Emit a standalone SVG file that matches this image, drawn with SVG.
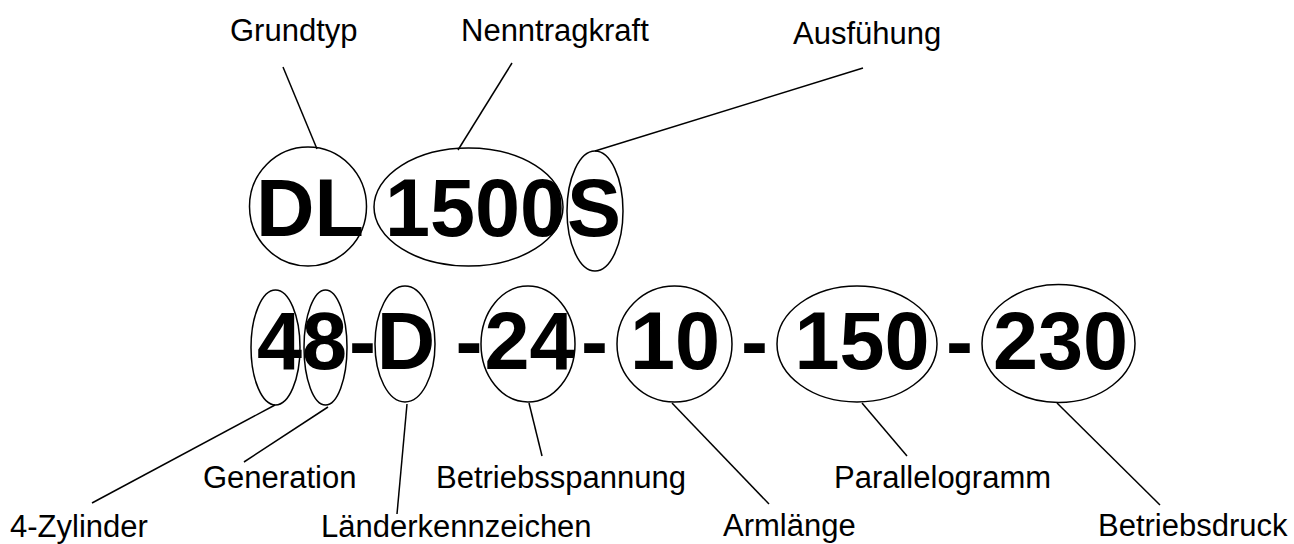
<svg xmlns="http://www.w3.org/2000/svg" width="1294" height="544" viewBox="0 0 1294 544">
<style>
.big{font-family:"Liberation Sans",Arial,sans-serif;font-weight:bold;font-size:81px;fill:#000;text-anchor:middle}
.lbl{font-family:"Liberation Sans",Arial,sans-serif;font-size:31px;fill:#000}
.ov{fill:none;stroke:#000;stroke-width:1.5}
.ln{stroke:#000;stroke-width:1.5;fill:none}
</style>
<rect width="1294" height="544" fill="#fff"/>
<g id="code-text">
<text class="big" x="310" y="236">DL</text>
<text class="big" x="475" y="236">1500</text>
<text class="big" x="594" y="236">S</text>
<text class="big" x="302" y="369">48</text>
<text class="big" x="362.5" y="369">-</text>
<text class="big" x="406" y="369">D</text>
<text class="big" x="469" y="369">-</text>
<text class="big" x="529.5" y="369">24</text>
<text class="big" x="594.5" y="369">-</text>
<text class="big" x="675" y="369">10</text>
<text class="big" x="754.5" y="369">-</text>
<text class="big" x="862" y="369">150</text>
<text class="big" x="959.5" y="369">-</text>
<text class="big" x="1060.5" y="369">230</text>
</g>
<g id="grundtyp"><ellipse class="ov" cx="308" cy="206.5" rx="58.5" ry="59.5"/><text class="lbl" x="230" y="41">Grundtyp</text></g>
<g id="nenntragkraft"><ellipse class="ov" cx="468.5" cy="207" rx="94.5" ry="59"/><text class="lbl" x="461" y="41">Nenntragkraft</text></g>
<g id="ausfuehung"><ellipse class="ov" cx="595" cy="211" rx="28" ry="60"/><text class="lbl" x="793" y="44">Ausfühung</text></g>
<g id="zylinder"><ellipse class="ov" cx="275.5" cy="347.5" rx="24.5" ry="57.5"/><text class="lbl" x="10" y="537">4-Zylinder</text></g>
<g id="generation"><ellipse class="ov" cx="325.5" cy="347.5" rx="21.5" ry="57.5"/><text class="lbl" x="203" y="488">Generation</text></g>
<g id="laenderkennzeichen"><ellipse class="ov" cx="405" cy="344" rx="30" ry="58"/><text class="lbl" x="321" y="537">Länderkennzeichen</text></g>
<g id="betriebsspannung"><ellipse class="ov" cx="528" cy="344" rx="47" ry="58"/><text class="lbl" x="436" y="488">Betriebsspannung</text></g>
<g id="armlaenge"><ellipse class="ov" cx="674.5" cy="344" rx="57.5" ry="58"/><text class="lbl" x="723" y="536">Armlänge</text></g>
<g id="parallelogramm"><ellipse class="ov" cx="857" cy="344" rx="80" ry="58"/><text class="lbl" x="834" y="488">Parallelogramm</text></g>
<g id="betriebsdruck"><ellipse class="ov" cx="1058.5" cy="343.5" rx="76.5" ry="59"/><text class="lbl" x="1098" y="536">Betriebsdruck</text></g>
<g id="connectors">
<line class="ln" x1="283" y1="67" x2="317" y2="149"/>
<line class="ln" x1="512" y1="63" x2="458" y2="150"/>
<line class="ln" x1="863" y1="68" x2="595" y2="151"/>
<line class="ln" x1="92" y1="503" x2="275" y2="405"/>
<line class="ln" x1="244" y1="462" x2="328" y2="407"/>
<line class="ln" x1="397" y1="514" x2="407" y2="404"/>
<line class="ln" x1="542" y1="456" x2="529" y2="403"/>
<line class="ln" x1="769" y1="504" x2="672" y2="403"/>
<line class="ln" x1="907" y1="456" x2="862" y2="403"/>
<line class="ln" x1="1160" y1="505" x2="1057" y2="403"/>
</g>
</svg>
